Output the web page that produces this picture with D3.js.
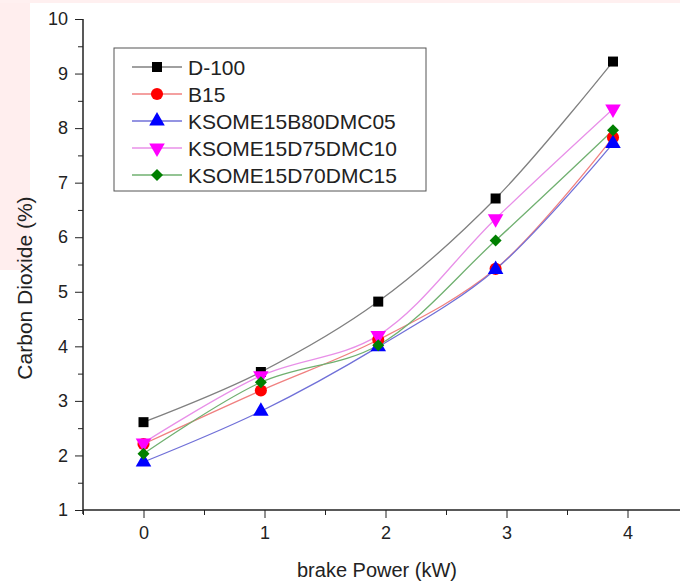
<!DOCTYPE html>
<html lang="en">
<head>
  <meta charset="UTF-8">
  <title>Carbon Dioxide vs brake Power</title>
  <script src="https://d3js.org/d3.v7.min.js"></script>
  <style>
    body {
      margin: 0;
      padding: 0;
      background: #fff;
      font-family: Arial, "Liberation Sans", sans-serif;
    }
    svg { display: block; }
    .axis path, .axis line { stroke: #222; }
    .axis text { font-size: 18px; fill: #222; font-family: Arial, "Liberation Sans", sans-serif; }
  </style>
</head>
<body>
  <div id="chart"></div>
  <script>
    // brake power (kW) at each measurement
    const power = [0, 0.97, 1.94, 2.91, 3.88];

    // CO2 (%) per fuel blend
    const d100 = [2.61, 3.53, 4.82, 6.71, 9.22];
    const b15 = [2.21, 3.19, 4.12, 5.42, 7.83];
    const ksome05 = [1.88, 2.81, 3.99, 5.41, 7.72];
    const ksome10 = [2.23, 3.46, 4.2, 6.34, 8.35];
    const ksome15 = [2.03, 3.34, 4.02, 5.94, 7.96];

    const seriesNames = ["D-100", "B15", "KSOME15B80DMC05", "KSOME15D75DMC10", "KSOME15D70DMC15"];
    const seriesValues = [d100, b15, ksome05, ksome10, ksome15];
    const colors = ["#000000", "#ff0000", "#0000ff", "#ff00ff", "#008000"];
    const lineColors = ["#808080", "#f08080", "#7070d8", "#e890e8", "#70b070"];
    const shapes = ["square", "circle", "triangleUp", "triangleDown", "diamond"];

    const xTicks = [0, 1, 2, 3, 4];
    const yTicks = [1, 2, 3, 4, 5, 6, 7, 8, 9, 10];

    const width = 680, height = 582;
    const margin = { left: 83, top: 19, bottom: 72 };

    const svg = d3.select("#chart").append("svg")
      .attr("width", width)
      .attr("height", height);

    // faint pink scan artefacts at the edges of the original
    svg.append("rect").attr("x", 0).attr("y", 0).attr("width", 30).attr("height", 270).attr("fill", "#ffeeee");
    svg.append("rect").attr("x", 0).attr("y", 0).attr("width", 680).attr("height", 3).attr("fill", "#fff0f0");

    const x = d3.scaleLinear().domain([-0.5, 4.5]).range([margin.left, margin.left + 605]);
    const y = d3.scaleLinear().domain([1, 10]).range([height - margin.bottom, margin.top]);

    // minor ticks
    svg.append("g")
      .attr("class", "axis")
      .attr("transform", `translate(0,${y(1)})`)
      .call(d3.axisBottom(x).tickValues(d3.range(-0.5, 4.6, 1)).tickSize(5).tickFormat(""))
      .call(g => g.select(".domain").remove());
    svg.append("g")
      .attr("class", "axis")
      .attr("transform", `translate(${x(-0.5)},0)`)
      .call(d3.axisLeft(y).tickValues(d3.range(1.5, 10, 1)).tickSize(5).tickFormat(""))
      .call(g => g.select(".domain").remove());

    // major axes
    svg.append("g")
      .attr("class", "axis")
      .attr("transform", `translate(0,${y(1)})`)
      .call(d3.axisBottom(x).tickValues(xTicks).tickSize(8).tickPadding(8).tickFormat(d3.format("d")))
      .call(g => g.select(".domain").attr("d", `M${x(-0.5)},0H${width}`).attr("stroke-width", 1.5));
    svg.append("g")
      .attr("class", "axis")
      .attr("transform", `translate(${x(-0.5)},0)`)
      .call(d3.axisLeft(y).tickValues(yTicks).tickSize(8).tickPadding(7).tickFormat(d3.format("d")))
      .call(g => g.select(".domain").attr("d", `M0,${y(10)}V${y(1) + 4}`).attr("stroke-width", 1.5));

    // axis titles
    svg.append("text")
      .attr("x", 377)
      .attr("y", 577)
      .attr("text-anchor", "middle")
      .attr("font-size", 20)
      .attr("fill", "#222")
      .text("brake Power (kW)");

    svg.append("text")
      .attr("transform", `translate(32,${288}) rotate(-90)`)
      .attr("text-anchor", "middle")
      .attr("font-size", 21)
      .attr("fill", "#222")
      .text("Carbon Dioxide (%)");

    function marker(sel, shape, cx, cy) {
      let d, rot = "";
      if (shape === "square") d = d3.symbol().type(d3.symbolSquare).size(100)();
      else if (shape === "circle") d = d3.symbol().type(d3.symbolCircle).size(115)();
      else if (shape === "triangleUp") d = d3.symbol().type(d3.symbolTriangle).size(105)();
      else if (shape === "triangleDown") { d = d3.symbol().type(d3.symbolTriangle).size(105)(); rot = " rotate(180)"; }
      else { d = d3.symbol().type(d3.symbolSquare).size(72)(); rot = " rotate(45)"; }
      return sel.append("path")
        .attr("d", d)
        .attr("transform", `translate(${cx},${cy})` + rot);
    }

    const line = d3.line()
      .x(d => x(d[0]))
      .y(d => y(d[1]))
      .curve(d3.curveCatmullRom.alpha(0.5));

    seriesValues.forEach((vals, i) => {
      const pts = power.map((p, j) => [p, vals[j]]);
      svg.append("path")
        .datum(pts)
        .attr("d", line)
        .attr("fill", "none")
        .attr("stroke", lineColors[i])
        .attr("stroke-width", 1.3);
    });

    seriesValues.forEach((vals, i) => {
      const g = svg.append("g");
      power.forEach((p, j) => {
        marker(g, shapes[i], x(p), y(vals[j])).attr("fill", colors[i]);
      });
    });

    // legend
    const legend = svg.append("g").attr("transform", "translate(114,48)");
    legend.append("rect")
      .attr("width", 312)
      .attr("height", 143)
      .attr("fill", "#fff")
      .attr("stroke", "#555")
      .attr("stroke-width", 1);

    seriesNames.forEach((name, i) => {
      const row = legend.append("g").attr("transform", `translate(0,${19 + i * 27})`);
      row.append("line")
        .attr("x1", 18).attr("x2", 68)
        .attr("stroke", lineColors[i])
        .attr("stroke-width", 1.3);
      marker(row, shapes[i], 43, 0).attr("fill", colors[i]);
      row.append("text")
        .attr("x", 74)
        .attr("y", 7.5)
        .attr("font-size", 21)
        .attr("fill", "#222")
        .text(name);
    });
  </script>
</body>
</html>
